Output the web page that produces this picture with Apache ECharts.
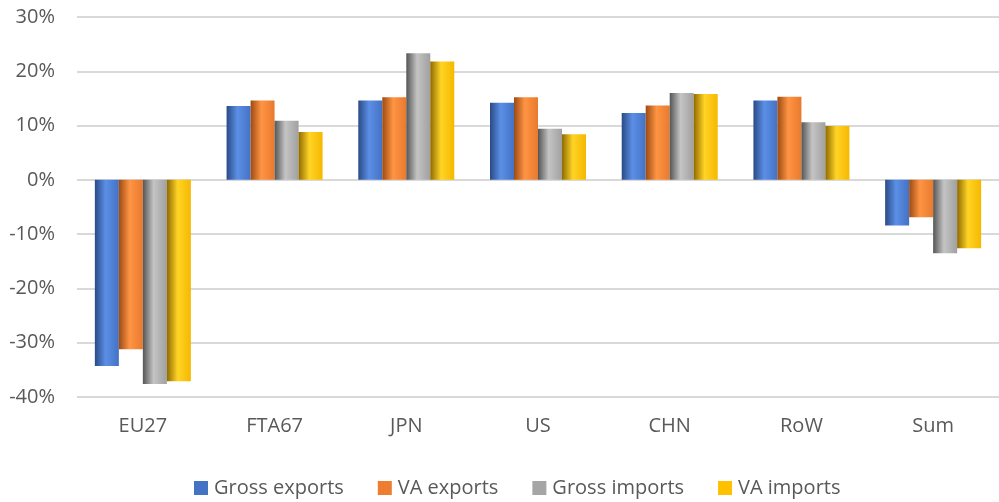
<!DOCTYPE html>
<head>
    <meta charset="utf-8">
    <title>ECharts</title>
    <style>
        html, body { margin: 0; padding: 0; background: #fff; }
    </style>
</head>
<body>
    <div id="main" style="width:999px;height:502px"></div>
    <script src="https://cdn.jsdelivr.net/npm/echarts@6/dist/echarts.min.js"></script>
    <script type="text/javascript">
        // categories and series values (percent)
        var categories = ['EU27', 'FTA67', 'JPN', 'US', 'CHN', 'RoW', 'Sum'];
        var grossExports = [-34.3, 13.6, 14.6, 14.2, 12.3, 14.6, -8.4];
        var vaExports = [-31.2, 14.6, 15.2, 15.2, 13.7, 15.3, -6.9];
        var grossImports = [-37.6, 10.9, 23.3, 9.4, 16.0, 10.6, -13.5];
        var vaImports = [-37.1, 8.8, 21.8, 8.4, 15.8, 9.9, -12.6];

        var font = '"Open Sans", sans-serif';

        // shaded cylinder-ish fill, dark at the edges
        function shade(dark, light, base) {
            return new echarts.graphic.LinearGradient(0, 0, 1, 0, [
                { offset: 0, color: dark },
                { offset: 0.45, color: light },
                { offset: 1, color: base }
            ]);
        }

        function bar(name, data, dark, light, base) {
            return {
                name: name,
                type: 'bar',
                data: data,
                barWidth: 24,
                barGap: '0%',
                itemStyle: { color: shade(dark, light, base) },
                emphasis: { disabled: true }
            };
        }

        var myChart = echarts.init(document.getElementById('main'));

        var option = {
            animation: false,
            color: ['#4472c4', '#ed7d31', '#a5a5a5', '#ffc000'],
            grid: { left: 77, right: 0, top: 17, bottom: 105 },
            legend: {
                top: 473,
                left: 189,
                itemWidth: 14,
                itemHeight: 14,
                itemGap: 34,
                icon: 'rect',
                textStyle: { fontFamily: font, fontSize: 20, color: '#595959', padding: [0, 0, 0, 1] },
                data: [
                    { name: 'Gross exports', itemStyle: { color: '#4472c4' } },
                    { name: 'VA exports', itemStyle: { color: '#ed7d31' } },
                    { name: 'Gross imports', itemStyle: { color: '#a5a5a5' } },
                    { name: 'VA imports', itemStyle: { color: '#ffc000' } }
                ]
            },
            xAxis: {
                type: 'category',
                data: categories,
                axisLine: { show: false, onZero: false },
                axisTick: { show: false },
                axisLabel: { margin: 19, fontFamily: font, fontSize: 20, color: '#595959' }
            },
            yAxis: {
                type: 'value',
                min: -40,
                max: 30,
                interval: 10,
                axisLabel: { formatter: '{value}%', margin: 22, fontFamily: font, fontSize: 20, color: '#595959' },
                splitLine: { lineStyle: { color: '#d9d9d9', width: 2 } }
            },
            series: [
                bar('Gross exports', grossExports, '#2a4a85', '#5b8fe6', '#4472c4'),
                bar('VA exports', vaExports, '#9c4a12', '#ff9444', '#e87a2e'),
                bar('Gross imports', grossImports, '#555555', '#c4c4c4', '#a0a0a0'),
                bar('VA imports', vaImports, '#8f6a00', '#ffd426', '#f5b800')
            ]
        };

        myChart.setOption(option);
    </script>
</body>
